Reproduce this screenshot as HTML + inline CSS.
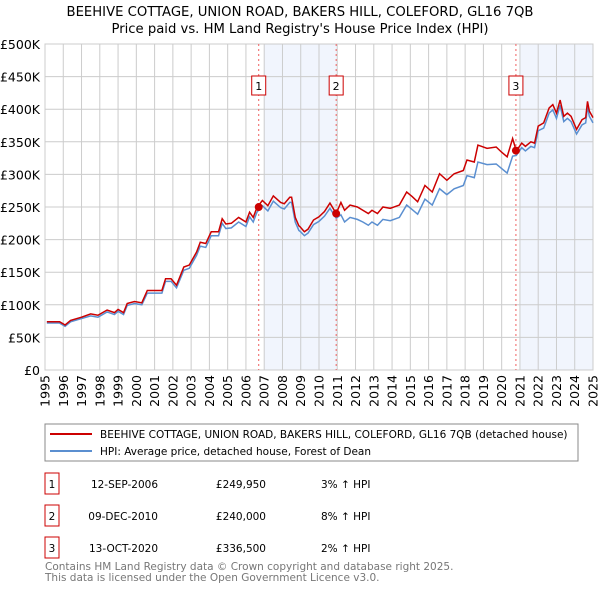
<!DOCTYPE html>
<html><head><meta charset="utf-8"><style>
body{margin:0;background:#fff;font-family:"Liberation Sans","DejaVu Sans",sans-serif;}
svg text{font-family:"DejaVu Sans","Liberation Sans",sans-serif;}
</style></head><body>
<svg id="c" width="600" height="590" xmlns="http://www.w3.org/2000/svg">
<text x="300" y="16" text-anchor="middle" font-size="13.2" fill="#000">BEEHIVE COTTAGE, UNION ROAD, BAKERS HILL, COLEFORD, GL16 7QB</text>
<text x="300" y="33" text-anchor="middle" font-size="13.2" fill="#000">Price paid vs. HM Land Registry's House Price Index (HPI)</text>
<g id="plot"></g>
<g>
<rect x="45" y="424" width="533" height="37" fill="#fff" stroke="#888"/>
<line x1="50" y1="434" x2="92" y2="434" stroke="#cc0000" stroke-width="2"/>
<text x="100" y="438" font-size="10.5">BEEHIVE COTTAGE, UNION ROAD, BAKERS HILL, COLEFORD, GL16 7QB (detached house)</text>
<line x1="50" y1="451" x2="92" y2="451" stroke="#5b8fd0" stroke-width="2"/>
<text x="100" y="455" font-size="10.5">HPI: Average price, detached house, Forest of Dean</text>
</g>
<g id="tbl" font-size="10.5"></g>
<text x="45" y="570" font-size="10.5" fill="#777">Contains HM Land Registry data © Crown copyright and database right 2025.</text>
<text x="45" y="581" font-size="10.5" fill="#777">This data is licensed under the Open Government Licence v3.0.</text>
</svg>
<script>
const years=[1995.1,1995.8,1996.1,1996.4,1997.0,1997.5,1997.9,1998.4,1998.8,1999.0,1999.3,1999.5,1999.9,2000.3,2000.6,2001.4,2001.6,2001.9,2002.2,2002.6,2002.9,2003.1,2003.3,2003.5,2003.8,2004.1,2004.5,2004.7,2004.9,2005.2,2005.6,2006.0,2006.2,2006.4,2006.6,2006.9,2007.2,2007.5,2007.9,2008.1,2008.4,2008.5,2008.7,2008.9,2008.95,2009.2,2009.4,2009.7,2010.0,2010.3,2010.6,2010.94,2011.2,2011.4,2011.7,2012.1,2012.4,2012.7,2012.9,2013.2,2013.5,2013.9,2014.4,2014.8,2015.1,2015.4,2015.8,2016.2,2016.6,2017.0,2017.4,2017.9,2018.1,2018.5,2018.7,2019.2,2019.7,2020.0,2020.3,2020.6,2020.8,2021.1,2021.3,2021.6,2021.8,2022.0,2022.3,2022.6,2022.8,2023.0,2023.2,2023.4,2023.6,2023.8,2024.1,2024.4,2024.6,2024.7,2024.8,2025.0];
const priceK=[74,74,69,76,81,86,84,92,88,93,88,102,105,103,122,122,140,140,130,158,161,171,181,196,194,212,212,232,224,225,234,227,242,234,249,260,252,267,257,255,265,265,234,221,220,212,216,230,235,243,256,240,257,245,253,250,245,240,245,240,250,248,253,273,266,258,283,273,301,291,301,306,322,319,345,340,342,334,327,355,336,348,343,350,348,374,379,402,407,394,414,389,394,389,369,384,387,412,397,387];
const hpiK=[72,72,67,74,79,83,81,89,85,90,85,99,102,100,118,118,136,136,126,153,156,166,176,190,188,206,206,225,217,218,227,220,235,227,242,252,244,259,249,247,257,257,227,214,213,206,210,223,228,236,248,233,238,227,234,231,227,222,227,222,231,229,234,253,246,239,262,253,278,269,278,283,298,295,319,315,316,309,302,328,329,341,336,343,341,367,371,394,399,386,406,381,386,381,362,376,379,404,389,379];
const yTicks=[0,50,100,150,200,250,300,350,400,450,500];
const yTickLabels=["£0","£50K","£100K","£150K","£200K","£250K","£300K","£350K","£400K","£450K","£500K"];
const xYears=[1995,1996,1997,1998,1999,2000,2001,2002,2003,2004,2005,2006,2007,2008,2009,2010,2011,2012,2013,2014,2015,2016,2017,2018,2019,2020,2021,2022,2023,2024,2025];
const saleIds=["1","2","3"];
const saleYears=[2006.70,2010.94,2020.78];
const salePricesK=[249.95,240,336.5];
const saleDates=["12-SEP-2006","09-DEC-2010","13-OCT-2020"];
const salePriceLabels=["£249,950","£240,000","£336,500"];
const saleHpi=["3% ↑ HPI","8% ↑ HPI","2% ↑ HPI"];
const shadeStart=[2007,2021];
const shadeEnd=[2011,2025];

const L=45,R=593,T=44,B=370;
const X=v=>L+(v-1995)/30*(R-L);
const Y=v=>B-v/500*(B-T);
const NS="http://www.w3.org/2000/svg";
const g=document.getElementById('plot');
function mk(t,a,p){const e=document.createElementNS(NS,t);for(const k in a)e.setAttribute(k,a[k]);(p||g).appendChild(e);return e;}
const bg=mk('rect',{x:L,y:T,width:R-L,height:B-T,fill:'#fff'});


shadeStart.forEach((s,i)=>{const r=mk('rect',{x:X(s),y:T,width:X(shadeEnd[i])-X(s),height:B-T,fill:'#eef2fc',opacity:0.8});

});
yTicks.forEach((v,i)=>{const l=mk('line',{x1:L,x2:R,y1:Y(v),y2:Y(v),stroke:'#ccc','stroke-width':1});


const t=mk('text',{x:L-5,y:Y(v)+5,'text-anchor':'end','font-size':'12.5',fill:'#000'});t.textContent=yTickLabels[i];

});
xYears.forEach(v=>{const l=mk('line',{x1:X(v),x2:X(v),y1:T,y2:B,stroke:'#ccc','stroke-width':1});


const xx=X(v)+4.5,yy=B+5;
const t=mk('text',{x:xx,y:yy,'text-anchor':'end','font-size':'12.5',fill:'#000',transform:'rotate(-90 '+xx+' '+yy+')'});t.textContent=v;

});
const ax=mk('rect',{x:L,y:T,width:R-L,height:B-T,fill:'none',stroke:'#ccc'});


saleYears.forEach((s,i)=>{const l=mk('line',{x1:X(s),x2:X(s),y1:T,y2:B,stroke:'#f06060','stroke-dasharray':'2,3','stroke-width':1});


const bx=mk('rect',{x:X(s)-7,y:76,width:14,height:19,fill:'#fff',stroke:'#cc0000'});


const t=mk('text',{x:X(s),y:90,'text-anchor':'middle','font-size':'11'});t.textContent=saleIds[i];

});
const hp=mk('polyline',{points:years.map((y,i)=>X(y)+','+Y(hpiK[i])).join(' '),fill:'none',stroke:'#5b8fd0','stroke-width':1.5});


const pp=mk('polyline',{points:years.map((y,i)=>X(y)+','+Y(priceK[i])).join(' '),fill:'none',stroke:'#cc0000','stroke-width':1.5});


saleYears.forEach((s,i)=>{const c=mk('circle',{cx:X(s),cy:Y(salePricesK[i]),r:4,fill:'#cc0000'});

});
const tb=document.getElementById('tbl');
saleIds.forEach((id,i)=>{const y=488+i*32;
const b=mk('rect',{x:45,y:y-15,width:14,height:21,fill:'#fff',stroke:'#cc0000'},tb);


const a=mk('text',{x:52,y:y,'text-anchor':'middle'},tb);a.textContent=id;


const d=mk('text',{x:158,y:y,'text-anchor':'end'},tb);d.textContent=saleDates[i];


const p=mk('text',{x:266,y:y,'text-anchor':'end'},tb);p.textContent=salePriceLabels[i];


const h=mk('text',{x:321,y:y},tb);h.textContent=saleHpi[i];

});
</script>
</body></html>
